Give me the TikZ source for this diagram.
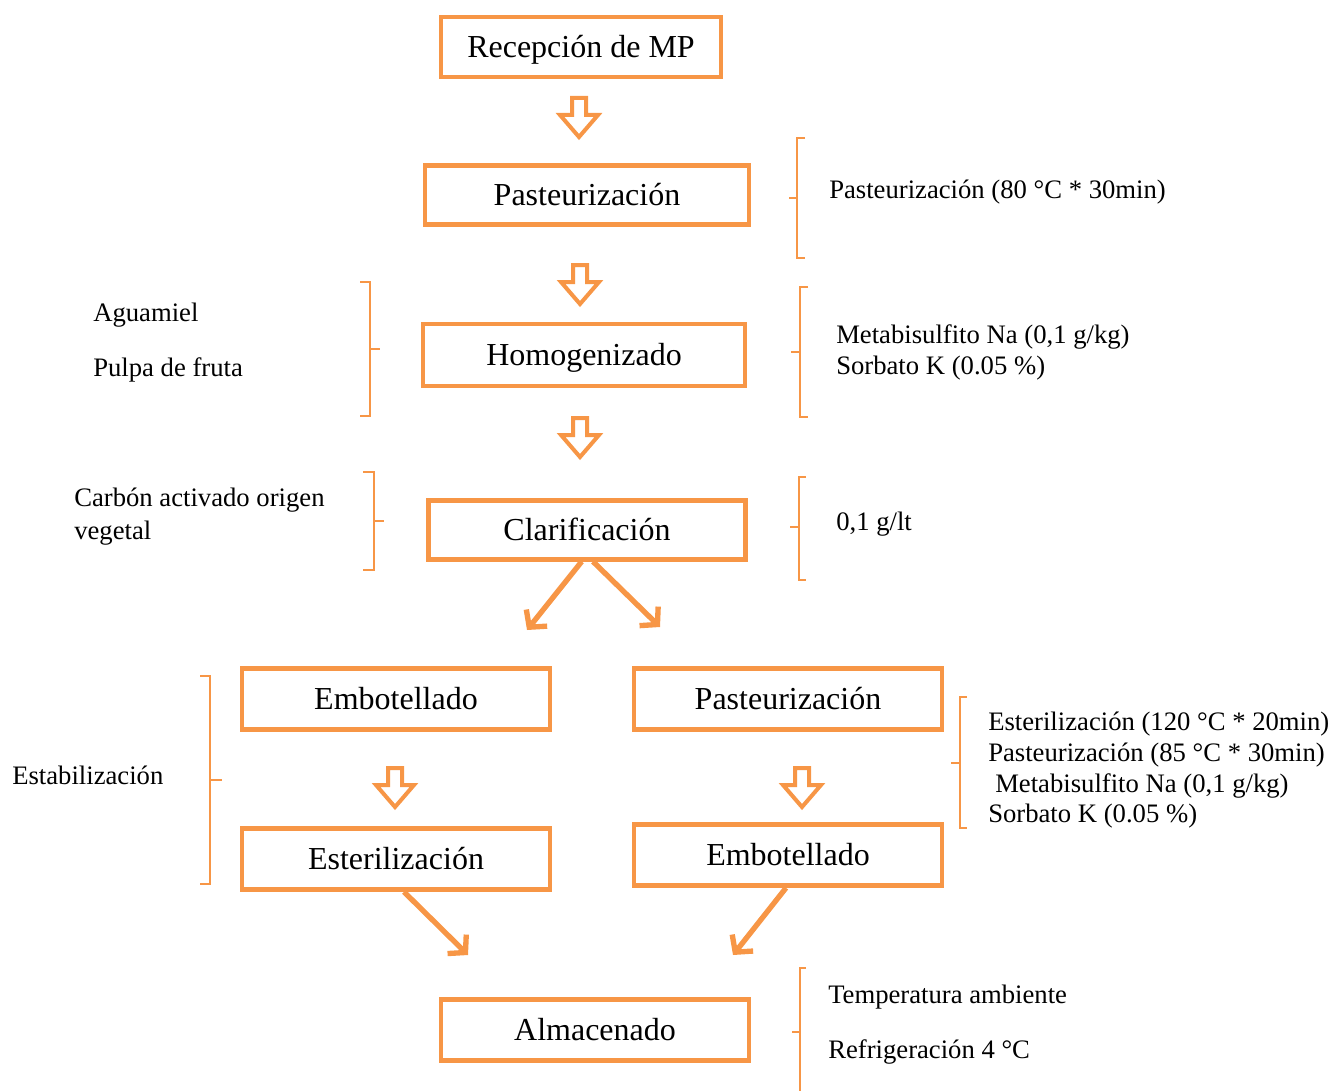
\documentclass[tikz,border=0pt]{standalone}
\usepackage{fontspec}
\setmainfont{Liberation Serif}
\usetikzlibrary{arrows.meta}
\definecolor{org}{HTML}{F79646}
\tikzset{
  box/.style={draw=org, line width=3.3pt, fill=white, font=\fontsize{24}{28}\selectfont, inner sep=0pt, minimum width=231pt, minimum height=46pt, text height=20pt, text depth=4pt},
  lbl/.style={anchor=west, inner sep=0pt, font=\fontsize{20}{24}\selectfont, yshift=-1.5pt},
  brace/.style={draw=org, line width=1.6pt},
  diag/.style={draw=org, line width=4pt, -{Straight Barb[length=9pt,width=20pt,line width=4pt]}},
  harrow/.pic={\draw[draw=org, line width=3pt, fill=white, line join=miter]
     (-7,0) -- (7,0) -- (7,17) -- (19,17) -- (0,39) -- (-19,17) -- (-7,17) -- cycle;}
}
\begin{document}
\begin{tikzpicture}[x=0.75pt,y=-0.75pt]
\useasboundingbox (0,0) rectangle (1333,1091);
% boxes
\node[box, minimum width=210pt, minimum height=45pt] (rec) at (581,47) {Recepción de MP};
\node[box, minimum width=243pt, minimum height=44pt] (past) at (587,195) {Pasteurización};
\node[box, minimum width=241.5pt, minimum height=46.5pt] (hom) at (584,355) {Homogenizado};
\node[box, minimum width=238pt, minimum height=44pt] (clar) at (587,530) {Clarificación};
\node[box] (embL) at (396,699) {Embotellado};
\node[box] (pastR) at (788,699) {Pasteurización};
\node[box] (ester) at (396,859) {Esterilización};
\node[box] (embR) at (788,855) {Embotellado};
\node[box] (alm) at (595,1030) {Almacenado};
% hollow arrows
\pic at (579,98) {harrow};
\pic at (580,265) {harrow};
\pic at (580,418) {harrow};
\pic at (395,768) {harrow};
\pic at (802,768) {harrow};
% diagonal arrows
\coordinate (d1) at (527,630);
\coordinate (d2) at (660,627);
\coordinate (d3) at (468,955);
\coordinate (d4) at (733,955);
\draw[diag] ([xshift=-4pt]clar.south) -- (d1);
\draw[diag] ([xshift=4.5pt]clar.south) -- (d2);
\draw[diag] ([xshift=6pt]ester.south) -- (d3);
\draw[diag] ([xshift=-1.5pt]embR.south) -- (d4);
% braces opening right
\draw[brace] (805,138) -- (797,138) -- (797,258) -- (805,258) (797,198) -- (789,198);
\draw[brace] (808,287) -- (800,287) -- (800,417) -- (808,417) (800,352) -- (791,352);
\draw[brace] (806,477) -- (799,477) -- (799,580) -- (806,580) (799,527) -- (790,527);
\draw[brace] (967,697) -- (960,697) -- (960,828) -- (967,828) (960,763) -- (951,763);
\draw[brace] (806,968) -- (800,968) -- (800,1091) (800,1032) -- (792,1032);
% braces opening left
\draw[brace] (360,282) -- (370,282) -- (370,416) -- (360,416) (370,349) -- (380,349);
\draw[brace] (363,472) -- (374,472) -- (374,570) -- (363,570) (374,521) -- (384,521);
\draw[brace] (200,676) -- (210,676) -- (210,884) -- (200,884) (210,780) -- (222,780);
% labels
\node[lbl] (l1) at (829,190) {Pasteurización (80 °C * 30min)};
\node[lbl] (l2) at (836,335) {Metabisulfito Na (0,1 g/kg)};
\node[lbl] (l3) at (836,366) {Sorbato K (0.05 \%)};
\node[lbl] (l4) at (93,313) {Aguamiel};
\node[lbl] (l5) at (93,368) {Pulpa de fruta};
\node[lbl] (l6) at (74,498) {Carbón activado origen};
\node[lbl] (l7) at (74,531) {vegetal};
\node[lbl] (l8) at (836,522) {0,1 g/lt};
\node[lbl] (l9) at (12,773) {Estabilización};
\node[lbl] (l10) at (988,722) {Esterilización (120 °C * 20min)};
\node[lbl] (l11) at (988,753) {Pasteurización (85 °C * 30min)};
\node[lbl] (l12) at (995,784) {Metabisulfito Na (0,1 g/kg)};
\node[lbl] (l13) at (988,814) {Sorbato K (0.05 \%)};
\node[lbl] (l14) at (828,995) {Temperatura ambiente};
\node[lbl] (l15) at (828,1050) {Refrigeración 4 °C};
\end{tikzpicture}
\end{document}
